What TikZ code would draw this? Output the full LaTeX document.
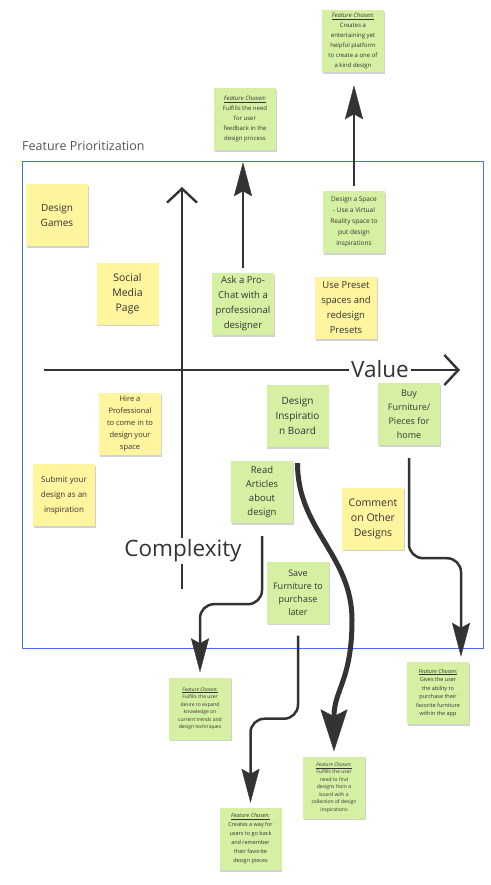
\documentclass[tikz,border=0pt]{standalone}
\usepackage{fontspec}
\setmainfont{Open Sans}
\usetikzlibrary{arrows.meta,shadows,calc}
\definecolor{ink}{HTML}{333333}
\definecolor{titlegray}{HTML}{555555}
\definecolor{noteY}{HTML}{FFF59E}
\definecolor{noteG}{HTML}{D6F0A3}
\definecolor{frameblue}{HTML}{4A6CF7}
\newcommand\myfs[2]{\fontsize{#1}{#2}\selectfont}
\newcommand\fchosen{\underline{\textit{Feature Chosen:}}}
\begin{document}
\begin{tikzpicture}[x=1pt,y=-1pt,
  note/.style={minimum width=62pt,minimum height=62pt,inner sep=0pt,align=center,text=ink,
    drop shadow={shadow xshift=0.6pt,shadow yshift=-1.6pt,opacity=0.18,fill=black}},
  ynote/.style={note,fill=noteY},
  gnote/.style={note,fill=noteG},
  flow/.style={draw=ink,line width=2.5pt,-{Stealth[length=34pt,width=18pt,inset=5pt,line width=0.4pt]}},
  bigflow/.style={draw=ink,line width=5pt,-{Stealth[length=42pt,width=27pt,inset=7pt,line width=0.4pt]}},
  axis/.style={draw=ink,line width=2.4pt,-{Straight Barb[length=14pt,width=30pt]}},
  axislabel/.style={fill=white,inner sep=2pt,text=ink,font=\myfs{22.5}{25}}
]
\useasboundingbox (0,0) rectangle (490,885);

% title and frame
\node[anchor=west,text=titlegray,font=\myfs{12.5}{15},inner sep=0pt] (title) at (22,146) {Feature Prioritization};
\draw[frameblue,line width=0.9pt] (22,161) rectangle (483,648);

% axes
\draw[axis] (44,370) -- (460,370);
\node[axislabel] (value) at (380,369) {Value};
\draw[axis] (182,589) -- (182,187);
\node[axislabel] (complexity) at (183,551) {Complexity};

% sticky notes inside the frame
\node[ynote,font=\myfs{10}{15}] (games) at (57,215) {Design\\Games};
\node[ynote,font=\myfs{10.5}{15}] (social) at (127.5,293.5) {Social\\Media\\Page};
\node[gnote,font=\myfs{9.5}{15}] (ask) at (243,304) {Ask a Pro-\\Chat with a\\professional\\designer};
\node[ynote,font=\myfs{9.5}{15}] (preset) at (346,308) {Use Preset\\spaces and\\redesign\\Presets};
\node[gnote,font=\myfs{6.5}{11}] (space) at (354,222) {Design a Space\\- Use a Virtual\\Reality space to\\put design\\inspirations};
\node[gnote,font=\myfs{10}{15}] (board) at (297.5,416) {Design\\Inspiratio\\n Board};
\node[gnote,font=\myfs{9}{14}] (buy) at (409,414) {Buy\\Furniture/\\Pieces for\\home};
\node[ynote,font=\myfs{7.5}{12}] (hire) at (130,424) {Hire a\\Professional\\to come in to\\design your\\space};
\node[gnote,font=\myfs{9.5}{14}] (read) at (262,492) {Read\\Articles\\about\\design};
\node[ynote,font=\myfs{8}{15}] (submit) at (64,495) {Submit your\\design as an\\inspiration};
\node[ynote,font=\myfs{10.5}{15}] (comment) at (373,518.5) {Comment\\on Other\\Designs};
\node[gnote,font=\myfs{9}{13}] (save) at (298,592.5) {Save\\Furniture to\\purchase\\later};

% feature chosen notes
\node[gnote,font=\myfs{6}{10}] (fcspace) at (353,41) {\fchosen\\Creates a\\entertaining yet\\helpful platform\\to create a one of\\a kind design};
\node[gnote,font=\myfs{6}{10}] (fcask) at (245,119) {\fchosen\\Fulfills the need\\for user\\feedback in the\\design process};
\node[gnote,font=\myfs{5}{7.5}] (fcread) at (200,708.5) {\fchosen\\Fulfills the user\\desire to expand\\knowledge on\\current trends and\\design techniques};
\node[gnote,font=\myfs{5}{7.5}] (fcboard) at (334,787.5) {\fchosen\\Fulfills the user\\need to find\\designs from a\\board with a\\collection of design\\inspirations};
\node[gnote,font=\myfs{5.5}{8.5}] (fcbuy) at (438,693) {\fchosen\\Gives the user\\the ability to\\purchase their\\favorite furniture\\within the app};
\node[gnote,font=\myfs{5.5}{9}] (fcsave) at (250.5,839) {\fchosen\\Creates a way for\\users to go back\\and remember\\their favorite\\design pieces};

% connectors
\draw[flow,shorten <=5pt,shorten >=12pt] (ask.north) -- (ask.north |- fcask.south);
\draw[flow,shorten <=5pt,shorten >=13pt] (space.north) -- (space.north |- fcspace.south);
\draw[flow,rounded corners=14pt,shorten <=13pt,shorten >=5pt] (read.south) -- ++(0,81) -| (fcread.north);
\draw[flow,rounded corners=14pt,shorten <=13pt,shorten >=5pt] (buy.south) -- ++(0,113) -| ($(fcbuy.north)+(23,0)$);
\draw[flow,rounded corners=14pt,shorten <=12pt,shorten >=5pt] (save.south) -- ++(0,95) -| (fcsave.north);
\draw[bigflow,shorten <=16pt,shorten >=5pt] (board.south) .. controls (297.5,530) and (352,555) .. (352,620) .. controls (352,680) and (334,690) .. (fcboard.north);
\end{tikzpicture}
\end{document}
